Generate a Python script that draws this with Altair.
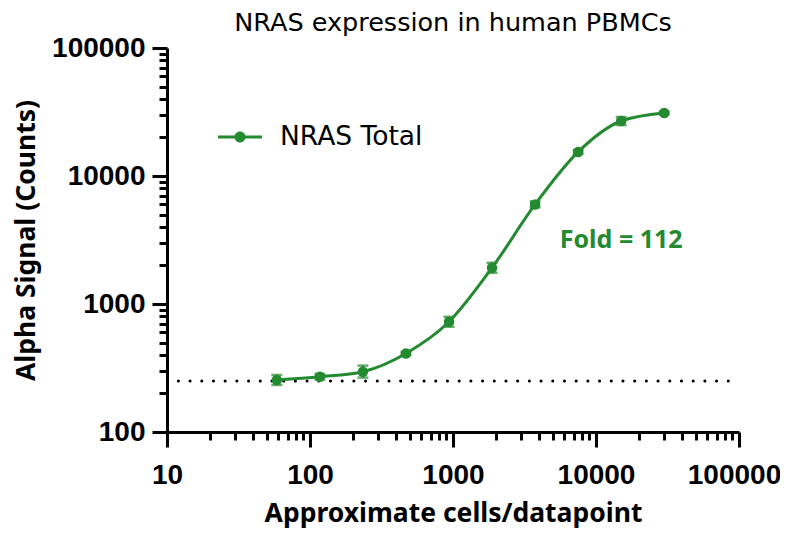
import altair as alt
import pandas as pd

# ---- data ----
cells = [58.59, 117.19, 234.38, 468.75, 937.5, 1875, 3750, 7500, 15000, 30000]
signal = [255, 270, 296, 411, 726, 1919, 5995, 15420, 26900, 31100]
err_low = [233, 257, 266, 400, 664, 1754, 5680, 14900, 25000, 30300]
err_high = [279, 284, 330, 423, 794, 2100, 6330, 15950, 28900, 31900]
series = ["NRAS Total"] * len(cells)

baseline_x = [12, 85000]
baseline_y = [250, 250]

fold_x = [15000]
fold_y = [3160]
fold_text = ["Fold = 112"]

major_ticks = [10, 100, 1000, 10000, 100000]
x_ticks = [m * 10 ** e for e in range(1, 5) for m in range(1, 10)] + [100000]
y_ticks = [m * 10 ** e for e in range(2, 5) for m in range(1, 10)] + [100000]

GREEN = "#238a2f"
TITLE_FONT = "DejaVu Sans"
AXIS_TITLE_FONT = "Noto Sans"
LABEL_FONT = "Liberation Sans"

df = pd.DataFrame({"cells": cells, "signal": signal, "lo": err_low,
                   "hi": err_high, "series": series})
base_df = pd.DataFrame({"x": [baseline_x[0]], "x2": [baseline_x[1]], "y": [baseline_y[0]]})
fold_df = pd.DataFrame({"x": fold_x, "y": fold_y, "t": fold_text})

major_test = "indexof([10,100,1000,10000,100000], datum.value) >= 0"


def make_axis(values, title, **kw):
    return alt.Axis(
        values=values,
        format="d",
        labelExpr=f"{major_test} ? datum.label : ''",
        labelOverlap=False,
        labelFlush=False,
        tickSize={"condition": {"test": major_test, "value": 15}, "value": 8},
        tickWidth=3,
        tickColor="black",
        domainWidth=3,
        domainColor="black",
        grid=False,
        labelFont=LABEL_FONT,
        labelFontSize=28,
        labelFontWeight="bold",
        labelColor="black",
        title=title,
        titleFont=AXIS_TITLE_FONT,
        titleFontSize=26.5,
        titleFontWeight="bold",
        titleColor="black",
        **kw,
    )


xscale = alt.Scale(type="log", domain=[10, 100000], nice=False)
yscale = alt.Scale(type="log", domain=[100, 100000], nice=False)

X = alt.X("cells:Q", scale=xscale,
          axis=make_axis(x_ticks, "Approximate cells/datapoint",
                         labelPadding=14, titlePadding=11,
                         labelOffset={"condition": {"test": "datum.value == 100000", "value": -5},
                                      "value": 0}))
Y = alt.Y("signal:Q", scale=yscale,
          axis=make_axis(y_ticks, "Alpha Signal (Counts)", labelPadding=7, titlePadding=11))

line = alt.Chart(df).mark_line(interpolate="monotone", strokeWidth=3, color=GREEN).encode(x=X, y=Y)

err = alt.Chart(df).mark_rule(strokeWidth=2.5, color=GREEN).encode(
    x="cells:Q", y="lo:Q", y2="hi:Q")
cap_lo = alt.Chart(df).mark_tick(orient="horizontal", size=11, thickness=2.5, color=GREEN).encode(
    x="cells:Q", y="lo:Q")
cap_hi = alt.Chart(df).mark_tick(orient="horizontal", size=11, thickness=2.5, color=GREEN).encode(
    x="cells:Q", y="hi:Q")

legend_path = ("M-1,-0.07L1,-0.07L1,0.07L-1,0.07Z "
               "M-0.25,0A0.25,0.25,0,1,1,0.25,0A0.25,0.25,0,1,1,-0.25,0Z")

points = alt.Chart(df).mark_point(filled=True, size=110, opacity=1).encode(
    x="cells:Q", y="signal:Q",
    color=alt.Color("series:N", title=None,
                    scale=alt.Scale(domain=["NRAS Total"], range=[GREEN]),
                    legend=alt.Legend(orient="none", legendX=51, legendY=67,
                                      symbolType=legend_path, symbolSize=1936,
                                      symbolStrokeWidth=0, symbolOpacity=1,
                                      labelFont=TITLE_FONT, labelFontSize=26.5,
                                      labelColor="black", labelOffset=18,
                                      padding=0)))

baseline = alt.Chart(base_df).mark_rule(color="black", strokeWidth=3, strokeCap="round",
                                        strokeDash=[0.1, 11.6]).encode(
    x="x:Q", x2="x2:Q", y="y:Q")

fold = alt.Chart(fold_df).mark_text(font=AXIS_TITLE_FONT, fontSize=25, fontWeight="bold",
                                    color=GREEN, align="center", baseline="middle").encode(
    x="x:Q", y="y:Q", text="t:N")

chart = alt.layer(baseline, line, err, cap_lo, cap_hi, points, fold).properties(
    width=572,
    height=384,
    title=alt.TitleParams("NRAS expression in human PBMCs", font=TITLE_FONT, fontSize=25.5,
                          fontWeight="normal", color="black", anchor="middle",
                          frame="group", offset=0, dy=2),
    autosize=alt.AutoSizeParams(type="none"),
    padding={"left": 159, "top": 40, "right": 41, "bottom": 97},
).configure_view(stroke=None)

chart.save("out.html", embed_options={"renderer": "svg", "actions": False})
